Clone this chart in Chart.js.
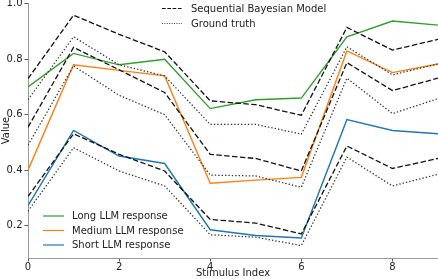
<!DOCTYPE html>
<html>
<head>
<meta charset="utf-8">
<script src="https://cdn.jsdelivr.net/npm/chart.js@4.4.1/dist/chart.umd.min.js"></script>
<style>
  html, body { margin: 0; padding: 0; background: #fff; }
  #wrap { width: 438px; height: 279px; }
</style>
</head>
<body>
<div id="wrap"><canvas id="lineChart" width="438" height="279"></canvas></div>
<script>
const stimulusIndex = [0, 1, 2, 3, 4, 5, 6, 7, 8, 9];

const longLLM   = [0.70, 0.821, 0.78, 0.80, 0.622, 0.654, 0.66, 0.881, 0.938, 0.923];
const mediumLLM = [0.40, 0.78, 0.76, 0.74, 0.353, 0.364, 0.374, 0.83, 0.752, 0.783];
const shortLLM  = [0.272, 0.543, 0.451, 0.424, 0.185, 0.164, 0.155, 0.582, 0.543, 0.531];

const bayesLong   = [0.73, 0.959, 0.89, 0.827, 0.65, 0.636, 0.598, 0.915, 0.833, 0.872];
const bayesMedium = [0.555, 0.843, 0.762, 0.68, 0.457, 0.442, 0.397, 0.788, 0.687, 0.732];
const bayesShort  = [0.305, 0.531, 0.457, 0.397, 0.222, 0.209, 0.17, 0.487, 0.406, 0.442];

const truthLong   = [0.654, 0.881, 0.78, 0.74, 0.565, 0.565, 0.53, 0.845, 0.744, 0.783];
const truthMedium = [0.49, 0.776, 0.67, 0.60, 0.382, 0.379, 0.338, 0.732, 0.604, 0.658];
const truthShort  = [0.252, 0.481, 0.397, 0.343, 0.167, 0.158, 0.128, 0.447, 0.343, 0.385];

const xTicks = [0, 2, 4, 6, 8];
const yTicks = [0.2, 0.4, 0.6, 0.8, 1.0];

const FONT = "'DejaVu Sans', sans-serif";

function pts(values) {
  return values.map((v, i) => ({ x: stimulusIndex[i], y: v }));
}

function modelLine(values, label) {
  return { label: label, data: pts(values), borderColor: '#111', borderWidth: 1.3,
           borderDash: [5.5, 2.4], pointRadius: 0, fill: false, tension: 0,
           legendGroup: 'model', legendDash: [3.7, 1.6], legendWidth: 1, legendColor: '#111' };
}
function truthLine(values, label) {
  return { label: label, data: pts(values), borderColor: '#333', borderWidth: 1.25,
           borderDash: [1.4, 2], pointRadius: 0, fill: false, tension: 0,
           legendGroup: 'model', legendDash: [1, 1.4], legendWidth: 1, legendColor: '#444' };
}
function llmLine(values, label, color, legendColor, legendWidth) {
  return { label: label, data: pts(values), borderColor: color, borderWidth: 1.4,
           pointRadius: 0, fill: false, tension: 0,
           legendGroup: 'llm', legendDash: [], legendWidth: legendWidth, legendColor: legendColor };
}

const datasets = [
  modelLine(bayesLong, 'Sequential Bayesian Model'),
  modelLine(bayesMedium, ''),
  modelLine(bayesShort, ''),
  truthLine(truthLong, 'Ground truth'),
  truthLine(truthMedium, ''),
  truthLine(truthShort, ''),
  llmLine(longLLM, 'Long LLM response', '#2ca02c', 'rgba(44,160,44,0.6)', 2),
  llmLine(mediumLLM, 'Medium LLM response', '#ff7f0e', '#ff7f0e', 1.2),
  llmLine(shortLLM, 'Short LLM response', '#1f77b4', 'rgba(31,119,180,0.6)', 2)
];

// two legends, matplotlib style
const twoLegends = {
  id: 'twoLegends',
  afterDraw(chart) {
    const ctx = chart.ctx;
    const groups = [
      { name: 'model', x: 162, y: 8.5, step: 15, len: 20 },
      { name: 'llm', x: 43, y: 216, step: 14.5, len: 21 }
    ];
    ctx.save();
    ctx.font = '10px ' + FONT;
    ctx.textBaseline = 'middle';
    groups.forEach(g => {
      const items = chart.data.datasets.filter(d => d.legendGroup === g.name && d.label);
      items.forEach((d, i) => {
        const y = g.y + i * g.step;
        ctx.strokeStyle = d.legendColor;
        ctx.lineWidth = d.legendWidth;
        ctx.setLineDash(d.legendDash);
        ctx.beginPath();
        ctx.moveTo(g.x, y);
        ctx.lineTo(g.x + g.len, y);
        ctx.stroke();
        ctx.setLineDash([]);
        ctx.fillStyle = '#222';
        ctx.fillText(d.label, g.x + 29, y + 0.5);
      });
    });
    ctx.restore();
  }
};

new Chart(document.getElementById('lineChart'), {
  type: 'line',
  data: { datasets: datasets },
  plugins: [twoLegends],
  options: {
    responsive: false,
    animation: false,
    layout: { padding: { top: 3, right: 0, bottom: 0, left: 0 } },
    plugins: { legend: { display: false }, tooltip: { enabled: false } },
    scales: {
      x: {
        type: 'linear',
        min: 0,
        max: 9,
        afterBuildTicks: s => { s.ticks = xTicks.map(v => ({ value: v })); },
        afterFit: s => { s.height = 21; s.paddingLeft = 0; s.paddingRight = 0; },
        grid: { drawOnChartArea: false, drawTicks: true, tickLength: 3.5, color: '#888', tickColor: '#555' },
        border: { display: true, color: '#999', width: 1 },
        ticks: { padding: 0, color: '#222', font: { family: FONT, size: 10 }, maxRotation: 0 },
        title: { display: true, text: 'Stimulus Index', color: '#222', padding: 0,
                 font: { family: FONT, size: 10 } }
      },
      y: {
        min: 0.083,
        max: 1.003,
        afterBuildTicks: s => { s.ticks = yTicks.map(v => ({ value: v })); },
        afterFit: s => { s.width = 28; s.paddingTop = 0; s.paddingBottom = 0; },
        grid: { drawOnChartArea: false, drawTicks: true, tickLength: 3.5, color: '#888', tickColor: '#555' },
        border: { display: true, color: '#999', width: 1 },
        ticks: { padding: 2, color: '#222', font: { family: FONT, size: 10 },
                 callback: v => v.toFixed(1) },
        title: { display: true, text: 'Value', color: '#222', padding: 0,
                 font: { family: FONT, size: 10 } }
      }
    }
  }
});
</script>
</body>
</html>
